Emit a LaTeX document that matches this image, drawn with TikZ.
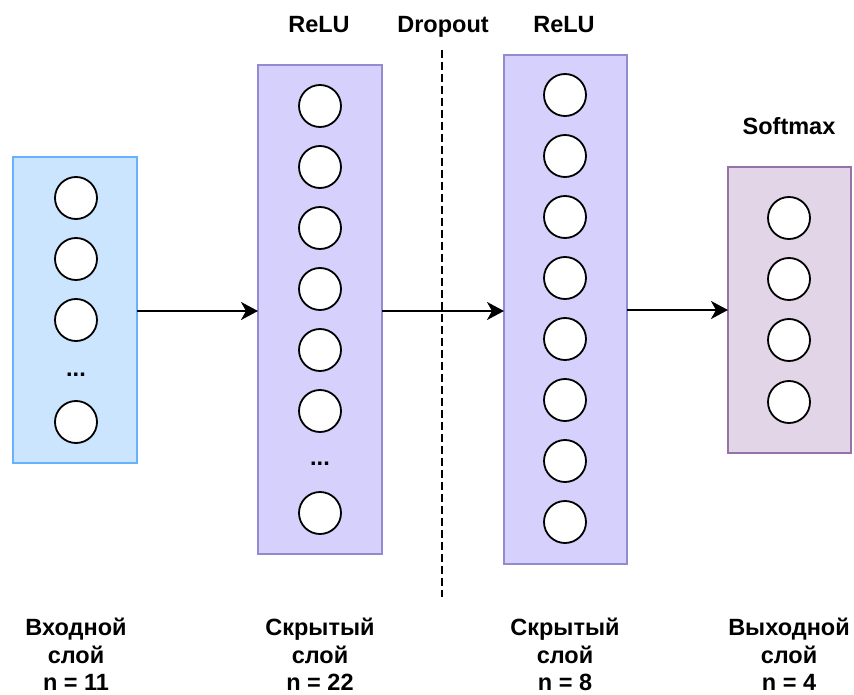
\documentclass[tikz,border=0pt]{standalone}
\usepackage{fontspec}
\setmainfont{Liberation Sans}
\usetikzlibrary{arrows.meta}
\definecolor{inFill}{RGB}{204,229,255}
\definecolor{inLine}{RGB}{102,178,255}
\definecolor{hidFill}{RGB}{213,209,252}
\definecolor{hidLine}{RGB}{145,140,210}
\definecolor{outFill}{RGB}{225,213,231}
\definecolor{outLine}{RGB}{150,115,166}
\tikzset{
  layerbox/.style={rectangle, draw, line width=1.5pt, inner sep=0pt, outer sep=0pt},
  inbox/.style={layerbox, fill=inFill, draw=inLine},
  hidbox/.style={layerbox, fill=hidFill, draw=hidLine},
  outbox/.style={layerbox, fill=outFill, draw=outLine},
  neuron/.style={circle, draw=black, fill=white, line width=1.8pt, minimum size=42pt, inner sep=0pt},
  lbl/.style={font=\fontsize{23.5}{27.5}\selectfont\bfseries, inner sep=0pt},
  botlbl/.style={lbl, align=center, anchor=north},
  dotsl/.style={lbl, anchor=base},
  conn/.style={line width=1.8pt, -{Stealth[length=17pt,width=18pt,inset=5pt]}},
}
\begin{document}
\begin{tikzpicture}[x=1pt,y=-1pt]
\useasboundingbox (0,0) rectangle (854,695);
% layer boxes
\node[inbox,  minimum width=124pt, minimum height=306pt] (in)  at (75,310) {};
\node[hidbox, minimum width=124pt, minimum height=489pt] (h1)  at (320,309.5) {};
\node[hidbox, minimum width=123pt, minimum height=509pt] (h2)  at (565.5,309.5) {};
\node[outbox, minimum width=123pt, minimum height=286pt] (out) at (789.5,310) {};
% input neurons
\foreach \y/\n in {198/1,259/2,320/3,422/4} \node[neuron] (i\n) at (76,\y) {};
\node[dotsl] (idots) at (76,376) {...};
% hidden 1 neurons
\foreach \y/\n in {106/1,167/2,228/3,289/4,350/5,411/6,513/7} \node[neuron] (a\n) at (320,\y) {};
\node[dotsl] (adots) at (320,465) {...};
% hidden 2 neurons
\foreach \y/\n in {95/1,156/2,217/3,278/4,339/5,400/6,461/7,522/8} \node[neuron] (b\n) at (565,\y) {};
% output neurons
\foreach \y/\n in {218/1,279/2,340/3,402/4} \node[neuron] (o\n) at (789,\y) {};
% dropout line
\coordinate (dtop) at (442,50);
\coordinate (dbot) at (442,597);
\draw[line width=1.5pt, dash pattern=on 8pt off 4pt] (dtop) -- (dbot);
% connectors
\coordinate (c1) at (137,311);
\coordinate (c2) at (382,311);
\coordinate (c3) at (627,310);
\draw[conn] (c1) -- (c1 -| h1.west);
\draw[conn] (c2) -- (c2 -| h2.west);
\draw[conn] (c3) -- (c3 -| out.west);
% top labels
\node[lbl, anchor=base] (relu1) at (319,33) {ReLU};
\node[lbl, anchor=base] (drop) at (443,33) {Dropout};
\node[lbl, anchor=base] (relu2) at (564,33) {ReLU};
\node[lbl, anchor=base] (soft) at (789,135) {Softmax};
% bottom labels
\node[botlbl] (t1) at (76,618) {Входной\\слой\\n = 11};
\node[botlbl] (t2) at (320,618) {Скрытый\\слой\\n = 22};
\node[botlbl] (t3) at (565,618) {Скрытый\\слой\\n = 8};
\node[botlbl] (t4) at (789,618) {Выходной\\слой\\n = 4};
\end{tikzpicture}
\end{document}
